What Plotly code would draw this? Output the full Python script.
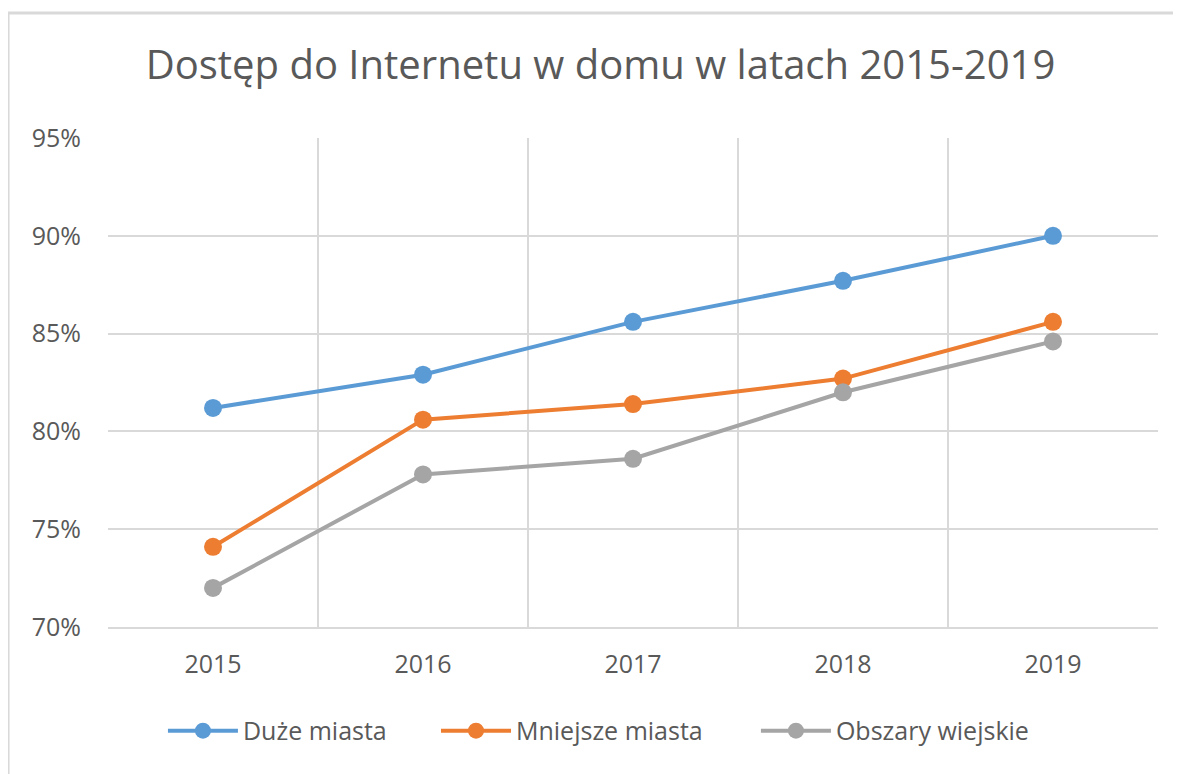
import plotly.graph_objects as go

# ── DATA ──────────────────────────────────────────────────────────────
years = ["2015", "2016", "2017", "2018", "2019"]
duze_miasta = [81.2, 82.9, 85.6, 87.7, 90.0]
mniejsze_miasta = [74.1, 80.6, 81.4, 82.7, 85.6]
obszary_wiejskie = [72.0, 77.8, 78.6, 82.0, 84.6]
y_ticks = [70, 75, 80, 85, 90, 95]
y_tick_labels = [f"{v}%" for v in y_ticks]

SERIES = [
    ("Duże miasta", duze_miasta, "#5B9BD5", "legend", 0.1312),
    ("Mniejsze miasta", mniejsze_miasta, "#ED7D31", "legend2", 0.3624),
    ("Obszary wiejskie", obszary_wiejskie, "#A5A5A5", "legend3", 0.6333),
]

FONT = "Open Sans"
TXT = "#595959"
GRID = "#D9D9D9"

fig = go.Figure()
for name, vals, color, leg, _ in SERIES:
    fig.add_trace(go.Scatter(
        x=years, y=vals, name=name, legend=leg,
        mode="lines+markers",
        line=dict(color=color, width=4),
        marker=dict(color=color, size=18),
    ))

# one legend per series so each entry sits where Excel put it
legends = {}
for _, _, _, leg, lx in SERIES:
    legends[leg] = dict(
        orientation="h",
        xref="container", x=lx, xanchor="left",
        yref="container", y=0.066, yanchor="middle",
        itemwidth=70,
        font=dict(family=FONT, size=25, color=TXT),
    )

# page body has an 8px default margin, so everything is shifted by -8 here
fig.update_layout(
    width=1181, height=774,
    paper_bgcolor="white", plot_bgcolor="white",
    margin=dict(l=100, r=31, t=130, b=155),
    font=dict(family=FONT, color=TXT, size=25),
    showlegend=True,
    title=dict(
        text="Dostęp do Internetu w domu w latach 2015-2019",
        font=dict(family=FONT, size=40, color=TXT),
        x=0.5017, xanchor="center", y=0.926, yanchor="middle",
    ),
    **legends,
    # chart-area frame, clipped by the image on right and bottom
    shapes=[dict(
        type="rect", xref="paper", yref="paper",
        x0=-0.0952, x1=1.05, y0=-0.35, y1=1.2556,
        line=dict(color=GRID, width=3), layer="below",
    )],
)

fig.update_xaxes(
    type="category", tickson="boundaries", range=[-0.5, 4.5],
    showgrid=True, gridcolor=GRID, gridwidth=1.5,
    showline=True, linecolor=GRID, linewidth=1.5,
    ticks="", ticklabelstandoff=14,
    tickfont=dict(family=FONT, size=25, color=TXT),
    fixedrange=True,
)
fig.update_yaxes(
    range=[70, 95], tickvals=y_ticks, ticktext=y_tick_labels,
    showgrid=True, gridcolor=GRID, gridwidth=1.5,
    zeroline=False, showline=False,
    ticks="", ticklabelstandoff=26,
    tickfont=dict(family=FONT, size=25, color=TXT),
    fixedrange=True,
)

fig.write_html("out.html")
